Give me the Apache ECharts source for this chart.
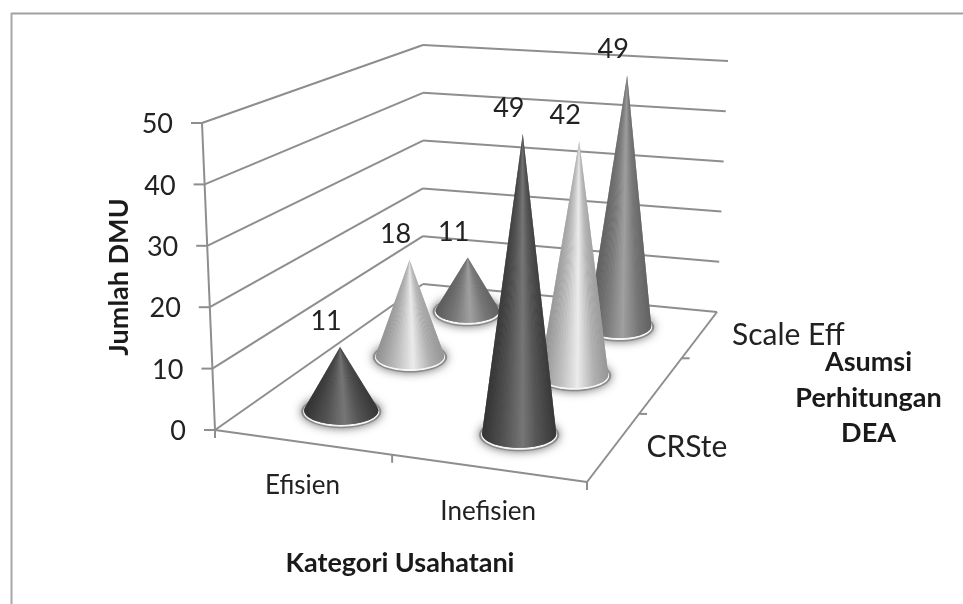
<!DOCTYPE html>
<html>
<head>
<meta charset="utf-8">
<style>html,body{margin:0;padding:0;background:#fff}#main{width:963px;height:604px}</style>
<script src="https://cdn.jsdelivr.net/npm/echarts@6/dist/echarts.min.js"></script>
</head>
<body>
<div id="main"></div>
<script>
var categories = ['Efisien', 'Inefisien'];
var depthLabels = ['CRSte', '', 'Scale Eff'];   // middle label is skipped in the picture
var crste = [11, 49];
var middle = [18, 42];
var scaleEff = [11, 49];
var valueTicks = [0, 10, 20, 30, 40, 50];
var valueMax = 50;

// corners of the 3D box on the page: front left, front right, back right, back left
var floorQuad = [[215, 430], [587, 482], [717, 312], [423, 284]];
var topQuad = [[202, 123], [594, 152], [728, 61], [423, 45]];

var FONT = 'Lato, "Open Sans", sans-serif';
var LINE = '#8e8e8e';
// grey ramps across each cone, left edge to right edge
var ramps = [
    [[0, 52], [0.3, 84], [0.55, 118], [0.75, 84], [1, 56]],
    [[0, 145], [0.3, 190], [0.55, 235], [0.8, 175], [1, 150]],
    [[0, 92], [0.3, 122], [0.55, 160], [0.8, 118], [1, 98]]
];

function quadMap(q) {
    var x0 = q[0][0], y0 = q[0][1], x1 = q[1][0], y1 = q[1][1];
    var x2 = q[2][0], y2 = q[2][1], x3 = q[3][0], y3 = q[3][1];
    var sx = x0 - x1 + x2 - x3, sy = y0 - y1 + y2 - y3;
    var dx1 = x1 - x2, dx2 = x3 - x2, dy1 = y1 - y2, dy2 = y3 - y2;
    var den = dx1 * dy2 - dx2 * dy1;
    var g = (sx * dy2 - dx2 * sy) / den;
    var h = (dx1 * sy - sx * dy1) / den;
    var a = x1 - x0 + g * x1, b = x3 - x0 + h * x3;
    var d = y1 - y0 + g * y1, e = y3 - y0 + h * y3;
    return function (u, v) {
        var w = g * u + h * v + 1;
        return [(a * u + b * v + x0) / w, (d * u + e * v + y0) / w];
    };
}
var floorAt = quadMap(floorQuad);
var topAt = quadMap(topQuad);

// u along categories, v along depth, val on the value axis
function project(u, v, val) {
    var p = floorAt(u, v), t = topAt(u, v), k = val / valueMax;
    return [p[0] + (t[0] - p[0]) * k, p[1] + (t[1] - p[1]) * k];
}

function rampGrey(ramp, s) {
    for (var i = 1; i < ramp.length; i++) {
        if (s <= ramp[i][0]) {
            var f = (s - ramp[i - 1][0]) / (ramp[i][0] - ramp[i - 1][0]);
            return Math.round(ramp[i - 1][1] + (ramp[i][1] - ramp[i - 1][1]) * f);
        }
    }
    return ramp[ramp.length - 1][1];
}

function greyCss(c) { return 'rgb(' + c + ',' + c + ',' + c + ')'; }

function lineEl(api, a, b, w) {
    var p = api.coord(a), q = api.coord(b);
    return {
        type: 'line',
        shape: { x1: p[0], y1: p[1], x2: q[0], y2: q[1] },
        style: { stroke: LINE, lineWidth: w || 2 }
    };
}

function textEl(api, pos, text, size, align) {
    var p = api.coord(pos);
    return {
        type: 'text',
        style: {
            text: text, x: p[0], y: p[1], fill: '#222',
            font: size + 'px ' + FONT,
            textAlign: align || 'center', textVerticalAlign: 'middle'
        }
    };
}

function offset(p, dx, dy) { return [p[0] + dx, p[1] + dy]; }

// walls, floor, ticks and axis labels
function renderBox(params, api) {
    var kids = [];
    valueTicks.forEach(function (t) {
        var a = project(0, 0, t), b = project(0, 1, t), c = project(1, 1, t);
        kids.push(lineEl(api, a, b));
        kids.push(lineEl(api, b, c));
        kids.push(lineEl(api, a, offset(a, -11, 0)));
        kids.push(textEl(api, offset(a, -29, 1.5), String(t), 27, 'right'));
    });
    kids.push(lineEl(api, project(0, 0, 0), project(0, 0, valueMax)));
    kids.push(lineEl(api, project(0, 0, 0), project(1, 0, 0)));
    kids.push(lineEl(api, project(1, 0, 0), project(1, 1, 0)));
    [0, 0.5, 1].forEach(function (u) {
        var p = project(u, 0, 0);
        kids.push(lineEl(api, p, offset(p, 0, 8)));
    });
    [1 / 3, 2 / 3].forEach(function (v) {
        var p = project(1, v, 0);
        kids.push(lineEl(api, p, offset(p, 8, 0)));
    });
    categories.forEach(function (name, i) {
        var p = project((i + 0.5) / categories.length, 0, 0);
        kids.push(textEl(api, offset(p, 1, 43.5), name, 26));
    });
    depthLabels.forEach(function (name, j) {
        if (!name) return;
        var p = project(1, (j + 0.5) / depthLabels.length, 0);
        kids.push(textEl(api, offset(p, 32, 1.5), name, 30, 'left'));
    });
    return { type: 'group', children: kids };
}

// one cone: [category index, depth index, value]
function renderCone(params, api) {
    var i = api.value(0), j = api.value(1), val = api.value(2);
    var u = (i + 0.5) / categories.length, v = (j + 0.5) / depthLabels.length;
    var base = project(u, v, 0), tip = project(u, v, val);
    var l = project(0, v, 0), r = project(1, v, 0);
    var rx = (r[0] - l[0]) * 0.104, ry = rx * 0.38;
    var c = api.coord(base), t = api.coord(offset(tip, 0, 2));
    var ramp = ramps[j];
    var delta = Math.asin(Math.min(ry / (c[1] - t[1]), 1));
    var kids = [
        {
            type: 'ellipse',
            shape: { cx: c[0], cy: c[1] + 1, rx: rx + 3, ry: ry + 2.5 },
            style: { fill: '#8a8a8a', shadowColor: '#6e6e6e', shadowBlur: 10 }
        },
        {
            type: 'ellipse',
            shape: { cx: c[0], cy: c[1] + 1, rx: rx + 1, ry: ry + 1 },
            style: { fill: '#f6f6f6' }
        }
    ];
    function rim(a) {
        return [c[0] - rx * Math.cos(a), c[1] + ry * Math.sin(a)];
    }
    var steps = 48, all = [t];
    for (var k = 0; k <= steps; k++) {
        all.push(rim(-delta + (Math.PI + 2 * delta) * k / steps));
    }
    // whole cone first so the seams of the fan show no white
    kids.push({
        type: 'polygon',
        shape: { points: all },
        style: {
            fill: new echarts.graphic.LinearGradient(0, 0, 1, 0, [
                { offset: 0, color: greyCss(ramp[0][1]) },
                { offset: 0.55, color: greyCss(ramp[2][1]) },
                { offset: 1, color: greyCss(ramp[4][1]) }
            ])
        }
    });
    for (k = 0; k < steps; k++) {
        var mid = -delta + (Math.PI + 2 * delta) * (k + 0.5) / steps;
        var s = (1 - Math.cos(mid)) / 2;
        kids.push({
            type: 'polygon',
            shape: { points: [t, all[k + 1], all[k + 2]] },
            style: { fill: greyCss(rampGrey(ramp, Math.min(Math.max(s, 0), 1))) }
        });
    }
    kids.push(textEl(api, offset(tip, -14, -23.5), String(val), 27));
    return { type: 'group', children: kids };
}

// back row first so nearer cones cover it
var coneData = [];
[scaleEff, middle, crste].forEach(function (vals, n) {
    vals.forEach(function (val, i) {
        coneData.push([i, 2 - n, val]);
    });
});

function titleEl(x, y, text, rotation) {
    return {
        type: 'text', x: x, y: y, rotation: rotation || 0,
        style: { text: text, font: 'bold 27px ' + FONT, fill: '#1a1a1a', textAlign: 'center', textVerticalAlign: 'middle' }
    };
}

var myChart = echarts.init(document.getElementById('main'), null, { renderer: 'canvas' });
var option = {
    animation: false,
    backgroundColor: '#fff',
    grid: { left: 0, right: 0, top: 0, bottom: 0 },
    xAxis: { type: 'value', min: 0, max: 963, show: false },
    yAxis: { type: 'value', min: 0, max: 604, inverse: true, show: false },
    graphic: [
        { type: 'line', shape: { x1: 11, y1: 13.5, x2: 963, y2: 13.5 }, style: { stroke: '#a0a0a0', lineWidth: 2 } },
        { type: 'line', shape: { x1: 11.5, y1: 13, x2: 11.5, y2: 604 }, style: { stroke: '#a8a8a8', lineWidth: 2 } },
        titleEl(119, 277, 'Jumlah DMU', Math.PI / 2),
        titleEl(400, 563, 'Kategori Usahatani'),
        titleEl(868.5, 362, 'Asumsi'),
        titleEl(868.5, 398, 'Perhitungan'),
        titleEl(868.5, 433, 'DEA')
    ],
    series: [
        { type: 'custom', coordinateSystem: 'cartesian2d', renderItem: renderBox, data: [[0, 0]], silent: true, z: 1, clip: false },
        { type: 'custom', coordinateSystem: 'cartesian2d', renderItem: renderCone, data: coneData, encode: { x: 0, y: 1 }, silent: true, z: 2, clip: false }
    ]
};
myChart.setOption(option);
</script>
</body>
</html>
